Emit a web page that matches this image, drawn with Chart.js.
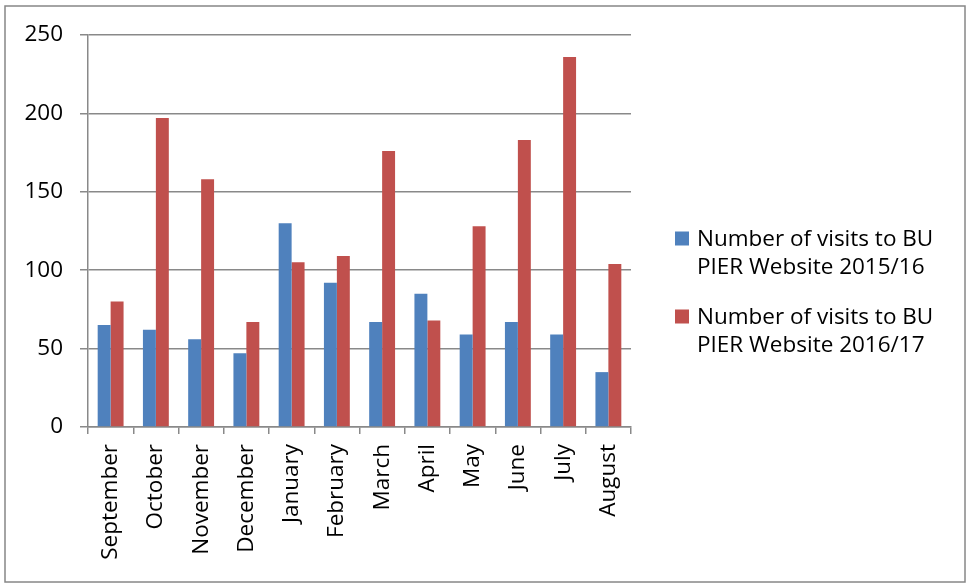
<!DOCTYPE html>
<html>
<head>
<meta charset="utf-8">
<script src="https://cdn.jsdelivr.net/npm/chart.js@4/dist/chart.umd.min.js"></script>
<style>
  html, body { margin: 0; padding: 0; background: #ffffff; }
  canvas { display: block; }
</style>
</head>
<body>
<canvas id="chart" width="967" height="585"></canvas>
<script>
// Monthly visits to the BU PIER website, academic years Sep–Aug
const months = ['September', 'October', 'November', 'December', 'January', 'February',
                'March', 'April', 'May', 'June', 'July', 'August'];
const visits2015 = [65, 62, 56, 47, 130, 92, 67, 85, 59, 67, 59, 35];
const visits2016 = [80, 197, 158, 67, 105, 109, 176, 68, 128, 183, 236, 104];
const seriesNames = ['Number of visits to BU PIER Website 2015/16',
                     'Number of visits to BU PIER Website 2016/17'];
const yTicks = [0, 50, 100, 150, 200, 250];

const FONT = '"Open Sans", "DejaVu Sans", sans-serif';
const AXIS_GREY = '#898989';

// Outer frame around the whole chart
const framePlugin = {
  id: 'frame',
  beforeDraw(chart) {
    const ctx = chart.ctx;
    ctx.save();
    ctx.fillStyle = '#ffffff';
    ctx.fillRect(0, 0, chart.width, chart.height);
    ctx.strokeStyle = '#878787';
    ctx.lineWidth = 1.5;
    ctx.strokeRect(5, 6, 960, 576);
    ctx.restore();
  }
};

// Legend on the right with word-wrapped labels
const wrappedLegend = {
  id: 'wrappedLegend',
  afterDraw(chart) {
    const ctx = chart.ctx;
    const maxWidth = 250;
    const lineH = 28;
    const entryGap = 22;
    ctx.save();
    ctx.font = '22.5px ' + FONT;
    const entries = chart.data.datasets.map(ds => {
      const words = ds.label.split(' ');
      const lines = [];
      let cur = '';
      words.forEach(w => {
        const test = cur ? cur + ' ' + w : w;
        if (ctx.measureText(test).width > maxWidth && cur) {
          lines.push(cur);
          cur = w;
        } else {
          cur = test;
        }
      });
      if (cur) lines.push(cur);
      return { lines, color: ds.backgroundColor };
    });
    let total = 0;
    entries.forEach((e, i) => { total += e.lines.length * lineH + (i ? entryGap : 0); });
    let y = chart.height / 2 - total / 2 + lineH / 2;
    const boxX = 675, textX = 697, box = 14;
    ctx.textBaseline = 'middle';
    ctx.textAlign = 'left';
    entries.forEach(e => {
      ctx.fillStyle = e.color;
      ctx.fillRect(boxX, y - box / 2 - 1, box, box);
      ctx.fillStyle = '#000000';
      e.lines.forEach((ln, k) => {
        ctx.fillText(ln, textX, y + k * lineH);
      });
      y += e.lines.length * lineH + entryGap;
    });
    ctx.restore();
  }
};

new Chart(document.getElementById('chart'), {
  type: 'bar',
  data: {
    labels: months,
    datasets: [
      { label: seriesNames[0], data: visits2015, backgroundColor: '#4F81BD' },
      { label: seriesNames[1], data: visits2016, backgroundColor: '#C0504D' }
    ]
  },
  plugins: [framePlugin, wrappedLegend],
  options: {
    responsive: false,
    devicePixelRatio: 1,
    animation: false,
    layout: { padding: { left: 0, top: 35, right: 336, bottom: 0 } },
    plugins: {
      legend: { display: false },
      tooltip: { enabled: false }
    },
    datasets: {
      bar: { categoryPercentage: 0.572, barPercentage: 1.0 }
    },
    scales: {
      x: {
        grid: {
          offset: true,
          drawOnChartArea: false,
          drawTicks: true,
          tickLength: 7,
          color: AXIS_GREY,
          lineWidth: 1.5
        },
        border: { display: true, color: AXIS_GREY, width: 1.5 },
        ticks: {
          minRotation: 90,
          maxRotation: 90,
          autoSkip: false,
          padding: 10,
          color: '#000000',
          font: { family: FONT, size: 22.5 }
        },
        afterFit(scale) { scale.height = 158; }
      },
      y: {
        min: 0,
        max: 250,
        afterBuildTicks(scale) { scale.ticks = yTicks.map(v => ({ value: v })); },
        grid: {
          drawTicks: true,
          tickLength: 8,
          color: AXIS_GREY,
          lineWidth: 1.5
        },
        border: { display: true, color: AXIS_GREY, width: 1.5 },
        ticks: {
          padding: 17,
          color: '#000000',
          font: { family: FONT, size: 22.5 }
        },
        afterFit(scale) { scale.width = 88; }
      }
    }
  }
});
</script>
</body>
</html>
